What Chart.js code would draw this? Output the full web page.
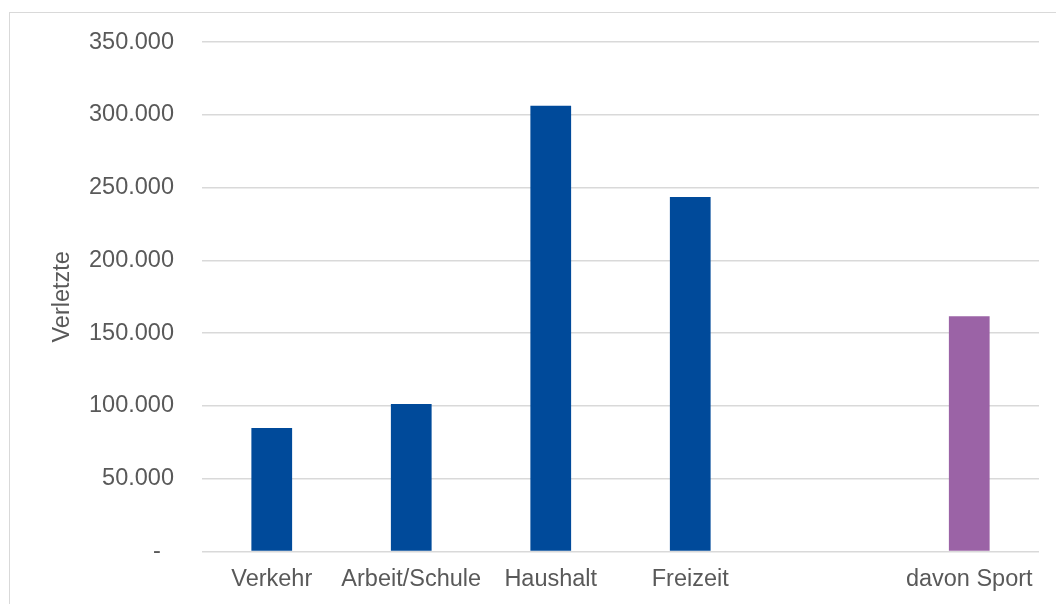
<!DOCTYPE html>
<html>
<head>
<meta charset="utf-8">
<script src="https://cdn.jsdelivr.net/npm/chart.js@4.4.1/dist/chart.umd.min.js"></script>
<style>
  html, body { margin: 0; padding: 0; background: #fff; overflow: hidden; }
  #wrap { position: relative; width: 1056px; height: 604px; overflow: hidden; }
  #frame { position: absolute; left: 9px; top: 12px; width: 1200px; height: 800px; border: 1px solid #d9d9d9; }
  #myChart { position: absolute; left: 0; top: 0; }
</style>
</head>
<body>
<div id="wrap">
  <div id="frame"></div>
  <canvas id="myChart" width="1056" height="604"></canvas>
</div>
<script>
// values
const categories = ["Verkehr", "Arbeit/Schule", "Haushalt", "Freizeit", "", "davon Sport"];
const injured = [84800, 101300, 306200, 243500, null, 161700];
const yTicks = [0, 50000, 100000, 150000, 200000, 250000, 300000, 350000];

const blue = "#004a9a";
const purple = "#9b63a6";
const textColor = "#595959";
const gridColor = "#d9d9d9";
const fontFamily = "'Liberation Sans', Arial, sans-serif";

function formatTick(value) {
  if (value === 0) return "-  ";
  return value.toLocaleString("de-DE");
}

function initChart(target) {
  const barColors = categories.map((c) => (c === "davon Sport" ? purple : blue));
  return new Chart(target, {
    type: "bar",
    data: {
      labels: categories,
      datasets: [{
        label: "Verletzte",
        data: injured,
        backgroundColor: barColors,
        categoryPercentage: 1,
        barPercentage: 0.292
      }]
    },
    options: {
      responsive: false,
      animation: false,
      layout: { padding: { left: 0, right: 17, top: 42, bottom: 0 } },
      plugins: { legend: { display: false }, tooltip: { enabled: false } },
      scales: {
        x: {
          grid: { display: false, drawTicks: false },
          border: { display: false },
          ticks: { color: textColor, font: { family: fontFamily, size: 23.5 }, padding: 14, maxRotation: 0, autoSkip: false },
          afterFit: (scale) => { scale.height = 52.5; }
        },
        y: {
          min: 0,
          max: 350000,
          afterBuildTicks: (scale) => { scale.ticks = yTicks.map((v) => ({ value: v })); },
          grid: { color: gridColor, lineWidth: 1.5, drawTicks: false },
          border: { display: false },
          ticks: { color: textColor, font: { family: fontFamily, size: 23.5 }, padding: 28, callback: formatTick },
          title: { display: true, text: "Verletzte", color: textColor, font: { family: fontFamily, size: 23.5 }, padding: { top: 48, bottom: 0 } },
          afterFit: (scale) => { scale.width = 202; }
        }
      }
    }
  });
}

document.addEventListener("DOMContentLoaded", () => initChart(document.querySelector("#myChart")));
</script>
</body>
</html>
